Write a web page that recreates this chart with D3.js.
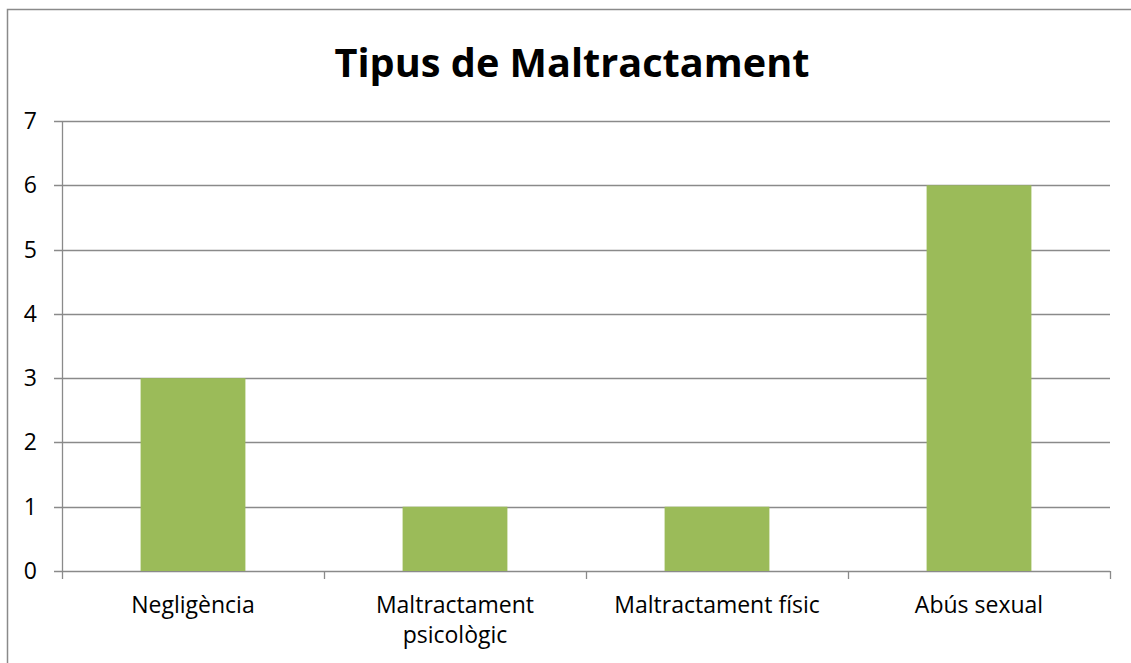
<!DOCTYPE html>
<html>
<head>
<meta charset="utf-8">
<script src="https://cdn.jsdelivr.net/npm/d3@7"></script>
<style>
  html,body{margin:0;padding:0;background:#fff;overflow:hidden;}
  svg{display:block;font-family:"Open Sans",sans-serif;}
</style>
</head>
<body>
<svg id="chart"></svg>
<script>
// ---------- DATA ----------
const categories = ['Negligència', 'Maltractament psicològic', 'Maltractament físic', 'Abús sexual'];
const values     = [3, 1, 1, 6];
const yTicks     = [0, 1, 2, 3, 4, 5, 6, 7];
const title      = 'Tipus de Maltractament';

// ---------- LAYOUT ----------
const W = 1131, H = 663;
const M = {top:121, right:21, bottom:92, left:62};
const IW = W - M.left - M.right, IH = H - M.top - M.bottom;
const GRID = '#8a8a8a', BAR = '#9bbb59';
const FS = 23;

const svg = d3.select('#chart').attr('width', W).attr('height', H);

// outer frame (runs off right/bottom edge like the original)
svg.append('rect')
  .attr('x', 7.5).attr('y', 9.5).attr('width', W + 20).attr('height', H + 20)
  .attr('fill', 'none').attr('stroke', GRID).attr('stroke-width', 1.5);

// title, fitted to the original width
const t = svg.append('text')
  .attr('x', 572).attr('y', 77).attr('text-anchor', 'middle')
  .attr('font-weight', 700).attr('font-size', 40).attr('fill', '#000')
  .text(title);
const tw = t.node().getComputedTextLength();
t.attr('font-size', 40 * 475 / tw);

const g = svg.append('g').attr('transform', `translate(${M.left},${M.top})`);

const x = d3.scaleBand().domain(categories).range([0, IW]).paddingInner(0.6).paddingOuter(0.3);
const y = d3.scaleLinear().domain([0, 7]).range([IH, 0]);

// gridlines
g.append('g').selectAll('line').data(yTicks).join('line')
  .attr('x1', -8).attr('x2', IW)
  .attr('y1', d => Math.round(y(d)) + 0.5).attr('y2', d => Math.round(y(d)) + 0.5)
  .attr('stroke', GRID).attr('stroke-width', 1.3);

// y labels
g.append('g').selectAll('text').data(yTicks).join('text')
  .attr('x', -25).attr('y', d => y(d)).attr('dy', '0.35em')
  .attr('text-anchor', 'end').attr('font-size', FS).attr('fill', '#000')
  .text(d => d);

// bars
g.append('g').selectAll('rect').data(values).join('rect')
  .attr('x', (d, i) => x(categories[i]))
  .attr('width', x.bandwidth())
  .attr('y', d => y(d))
  .attr('height', d => y(0) - y(d))
  .attr('fill', BAR);

// y axis line
g.append('line').attr('x1', 0.5).attr('x2', 0.5).attr('y1', 0).attr('y2', IH)
  .attr('stroke', GRID).attr('stroke-width', 1.3);

// x axis ticks at band boundaries
const bounds = categories.map(c => x(c) - x.step() * 0.3).concat([IW]);
g.append('g').selectAll('line').data(bounds).join('line')
  .attr('x1', d => Math.round(d) + 0.5).attr('x2', d => Math.round(d) + 0.5)
  .attr('y1', IH).attr('y2', IH + 8)
  .attr('stroke', GRID).attr('stroke-width', 1.3);

// category labels (wrapped like the original)
const labelLines = c => c === 'Maltractament psicològic' ? ['Maltractament', 'psicològic'] : [c];
g.append('g').selectAll('text').data(categories).join('text')
  .attr('text-anchor', 'middle').attr('font-size', FS).attr('fill', '#000')
  .each(function(c){
    const el = d3.select(this);
    labelLines(c).forEach((l, i) => {
      el.append('tspan')
        .attr('x', x(c) + x.bandwidth() / 2)
        .attr('y', IH + 42 + i * 30)
        .text(l);
    });
  });
</script>
</body>
</html>
